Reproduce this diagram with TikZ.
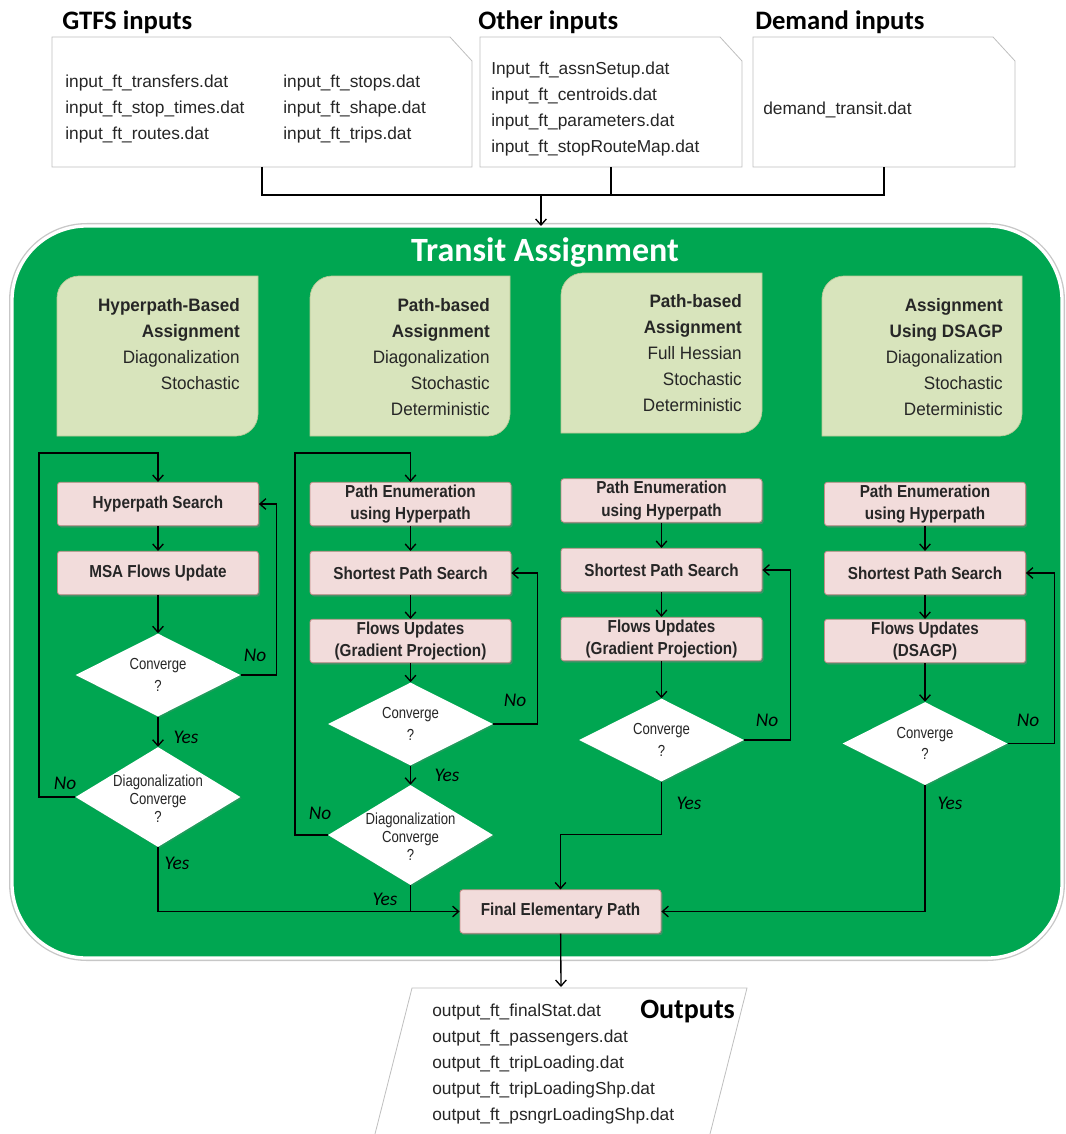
\documentclass[tikz,border=0pt]{standalone}
\usepackage{fontspec}
\setmainfont{Liberation Sans}
\newfontfamily\calib{Carlito}
\newfontfamily\narA[FakeStretch=0.88]{Liberation Sans}
\newfontfamily\narB[FakeStretch=0.95]{Liberation Sans}
\newfontfamily\narC[FakeStretch=0.82]{Liberation Sans}
\usetikzlibrary{arrows.meta,shapes.geometric,shadows,calc}

\definecolor{panelgreen}{RGB}{0,166,81}
\definecolor{olive}{RGB}{216,228,188}
\definecolor{oliveedge}{RGB}{185,200,150}
\definecolor{rose}{RGB}{242,220,219}
\definecolor{roseedge}{RGB}{196,140,136}
\definecolor{filegray}{RGB}{191,191,191}
\definecolor{ink}{RGB}{38,38,38}

% olive method card: rounded top-left and bottom-right corners
\newcommand\catshape[4]{%
  \path[catfill] (#1,#2+22) .. controls (#1,#2+9.9) and (#1+9.9,#2) .. (#1+22,#2)
    -- (#3,#2) -- (#3,#4-22) .. controls (#3,#4-9.9) and (#3-9.9,#4) .. (#3-22,#4)
    -- (#1,#4) -- cycle;}

\begin{document}
\begin{tikzpicture}[x=0.75pt,y=-0.75pt,
  arr/.style={line width=1pt,-{Straight Barb[length=4.5pt,width=8pt]}},
  wire/.style={line width=1pt},
  filenode/.style={rectangle,minimum width=315pt,minimum height=97.5pt,inner sep=0pt,outer sep=0pt},
  fileedge/.style={draw=filegray,fill=white,line width=0.6pt},
  filetext/.style={font=\fontsize{13}{19.5}\selectfont,align=left,inner sep=0pt,text=ink},
  ttl/.style={font=\calib\bfseries\fontsize{20}{24}\selectfont,inner sep=0pt,text=black},
  panel/.style={rectangle,fill=panelgreen,draw=white,line width=2.5pt,rounded corners=56pt,
    minimum width=787.5pt,minimum height=549pt,inner sep=0pt,outer sep=0pt,
    preaction={draw=black!22,line width=4.5pt}},
  catfill/.style={fill=olive,draw=oliveedge,line width=0.5pt},
  cattext/.style={font=\narB\fontsize{13.5}{19.5}\selectfont,align=right,inner sep=0pt,text=ink,anchor=north east},
  proc/.style={rectangle,fill=rose,draw=roseedge,line width=0.6pt,rounded corners=2pt,
    minimum width=150.75pt,minimum height=32.5pt,inner sep=1pt,align=center,
    font=\narA\bfseries\fontsize{13}{17}\selectfont,text=ink,
    drop shadow={opacity=0.45,shadow xshift=1.2pt,shadow yshift=-1.5pt}},
  dia/.style={diamond,aspect=2,fill=white,inner sep=0pt,minimum width=123.75pt,minimum height=62.25pt,
    drop shadow={opacity=0.25,shadow xshift=1pt,shadow yshift=-1pt}},
  dtext/.style={font=\narC\fontsize{12}{16}\selectfont,align=center,inner sep=0pt,text=ink},
  ddtext/.style={font=\narC\fontsize{12}{13.5}\selectfont,align=center,inner sep=0pt,text=ink},
  yn/.style={font=\calib\itshape\fontsize{14.5}{16}\selectfont,inner sep=0pt,text=black}
]
\useasboundingbox (0,0) rectangle (1065,1134);

% ---------- input files ----------
\node[filenode] (gtfs) at (262,102) {};
\node[filenode,minimum width=196.5pt] (oth) at (611,102) {};
\node[filenode,minimum width=196.5pt] (dem) at (884,102) {};
\foreach \b in {gtfs,oth,dem}{
  \path[fileedge] (\b.south west) -- (\b.north west) -- ([xshift=-16.5pt]\b.north east)
    -- ([yshift=-18pt]\b.north east) -- (\b.south east) -- cycle;}

\node[ttl,anchor=west] (tg) at (62,22) {GTFS inputs};
\node[ttl,anchor=west] (to) at (478,22) {Other inputs};
\node[ttl,anchor=west] (td) at (755,22) {Demand inputs};

\node[filetext,anchor=west] (g1) at (65,109)
  {input\_ft\_transfers.dat\\input\_ft\_stop\_times.dat\\input\_ft\_routes.dat};
\node[filetext,anchor=west] (g2) at (283,109)
  {input\_ft\_stops.dat\\input\_ft\_shape.dat\\input\_ft\_trips.dat};
\node[filetext,anchor=west] (o1) at (491,109)
  {Input\_ft\_assnSetup.dat\\input\_ft\_centroids.dat\\input\_ft\_parameters.dat\\input\_ft\_stopRouteMap.dat};
\node[filetext,anchor=west] (d1) at (763,110) {demand\_transit.dat};

% ---------- assignment panel ----------
\node[panel] (ta) at (537,592) {};
\node[font=\calib\bfseries\fontsize{25.5}{30}\selectfont,text=white,inner sep=0pt] (tat) at (545,252) {Transit Assignment};

\coordinate (jin) at (541,195);
\draw[wire] (gtfs.south) -- (gtfs.south |- jin) -- (dem.south |- jin) -- (dem.south);
\draw[wire] (oth.south) -- (oth.south |- jin);
\draw[arr] (jin) -- (jin |- ta.north);

% ---------- method cards ----------
\catshape{57}{276}{258}{436}
\catshape{310}{276}{510}{436}
\catshape{561}{273}{762}{433}
\catshape{822}{276}{1022}{436}
\node[cattext] (k1) at (240,298) {\textbf{Hyperpath-Based}\\\textbf{Assignment}\\Diagonalization\\Stochastic};
\node[cattext] (k2) at (490,298) {\textbf{Path-based}\\\textbf{Assignment}\\Diagonalization\\Stochastic\\Deterministic};
\node[cattext] (k3) at (742,294) {\textbf{Path-based}\\\textbf{Assignment}\\Full Hessian\\Stochastic\\Deterministic};
\node[cattext] (k4) at (1003,298) {\textbf{Assignment}\\\textbf{Using DSAGP}\\Diagonalization\\Stochastic\\Deterministic};

% ---------- column 1: hyperpath-based ----------
\node[proc] (hs) at (158,504) {Hyperpath Search};
\node[proc] (msa) at (158,573) {MSA Flows Update};
\node[dia,label={[dtext]center:{Converge\\?}}] (cv1) at (158,675) {};
\node[dia,minimum height=75pt,label={[ddtext,yshift=-1.5pt]center:{Diagonalization\\Converge\\?}}] (dc1) at (158,797) {};

% ---------- column 2: path-based, diagonalization ----------
\node[proc] (pe2) at (410.5,504) {Path Enumeration\\using Hyperpath};
\node[proc] (sp2) at (410.5,573) {Shortest Path Search};
\node[proc] (fu2) at (410.5,641) {Flows Updates\\(Gradient Projection)};
\node[dia,label={[dtext]center:{Converge\\?}}] (cv2) at (410.5,724) {};
\node[dia,minimum height=75pt,label={[ddtext,yshift=-1.5pt]center:{Diagonalization\\Converge\\?}}] (dc2) at (410.5,835) {};

% ---------- column 3: path-based, full Hessian ----------
\node[proc] (pe3) at (661.5,500.5) {Path Enumeration\\using Hyperpath};
\node[proc] (sp3) at (661.5,570) {Shortest Path Search};
\node[proc] (fu3) at (661.5,639) {Flows Updates\\(Gradient Projection)};
\node[dia,label={[dtext]center:{Converge\\?}}] (cv3) at (661.5,740) {};

% ---------- column 4: DSAGP ----------
\node[proc] (pe4) at (925,504) {Path Enumeration\\using Hyperpath};
\node[proc] (sp4) at (925,573) {Shortest Path Search};
\node[proc] (fu4) at (925,641) {Flows Updates\\(DSAGP)};
\node[dia,label={[dtext]center:{Converge\\?}}] (cv4) at (925,743.5) {};

\node[proc] (fep) at (560.5,911.5) {Final Elementary Path};

% ---------- connectors ----------
\coordinate (l1) at (39,453);
\coordinate (l2) at (295,453);

\draw[arr] (hs) -- (msa);
\draw[arr] (msa) -- (cv1);
\draw[arr] (cv1) -- (dc1);
\draw[arr] (cv1.east) -- ++(36,0) |- (hs.east);
\draw[arr] (dc1.west) -| (l1) -| (hs.north);
\draw[arr] (dc1.south) |- (fep.west);

\draw[arr] (pe2) -- (sp2);
\draw[arr] (sp2) -- (fu2);
\draw[arr] (fu2) -- (cv2);
\draw[arr] (cv2) -- (dc2);
\draw[arr] (cv2.east) -- ++(44,0) |- (sp2.east);
\draw[arr] (dc2.west) -| (l2) -| (pe2.north);
\draw[wire] (dc2.south) -- (dc2.south |- fep.west);

\draw[arr] (pe3) -- (sp3);
\draw[arr] (sp3) -- (fu3);
\draw[arr] (fu3) -- (cv3);
\draw[arr] (cv3.east) -- ++(46,0) |- (sp3.east);
\draw[arr] (cv3.south) -- ++(0,53) -| (fep.north);

\draw[arr] (pe4) -- (sp4);
\draw[arr] (sp4) -- (fu4);
\draw[arr] (fu4) -- (cv4);
\draw[arr] (cv4.east) -- ++(47,0) |- (sp4.east);
\draw[arr] (cv4.south) |- (fep.east);

% ---------- branch labels ----------
\node[yn] (n1a) at (255,655) {No};
\node[yn] (y1a) at (186,737) {Yes};
\node[yn] (n1b) at (65,783) {No};
\node[yn] (y1b) at (177,863) {Yes};
\node[yn] (n2a) at (515,700) {No};
\node[yn] (y2a) at (447,775) {Yes};
\node[yn] (n2b) at (320,813) {No};
\node[yn] (y2b) at (385,899) {Yes};
\node[yn] (n3) at (767,720) {No};
\node[yn] (y3) at (689,803) {Yes};
\node[yn] (n4) at (1028,720) {No};
\node[yn] (y4) at (950,803) {Yes};

% ---------- outputs ----------
\fill[white] (375,1134) -- (412,988) -- (747,988) -- (710,1134) -- cycle;
\draw[filegray,line width=0.6pt] (375,1134) -- (412,988) -- (747,988) -- (710,1134);
\coordinate (otop) at (561,987);
\draw[arr] (fep) -- (otop);
\node[filetext,anchor=west] (olist) at (432,1064)
  {output\_ft\_finalStat.dat\\output\_ft\_passengers.dat\\output\_ft\_tripLoading.dat\\output\_ft\_tripLoadingShp.dat\\output\_ft\_psngrLoadingShp.dat};
\node[ttl,font=\calib\bfseries\fontsize{21}{24}\selectfont,anchor=west] (otitle) at (640,1012) {Outputs};
\end{tikzpicture}
\end{document}
